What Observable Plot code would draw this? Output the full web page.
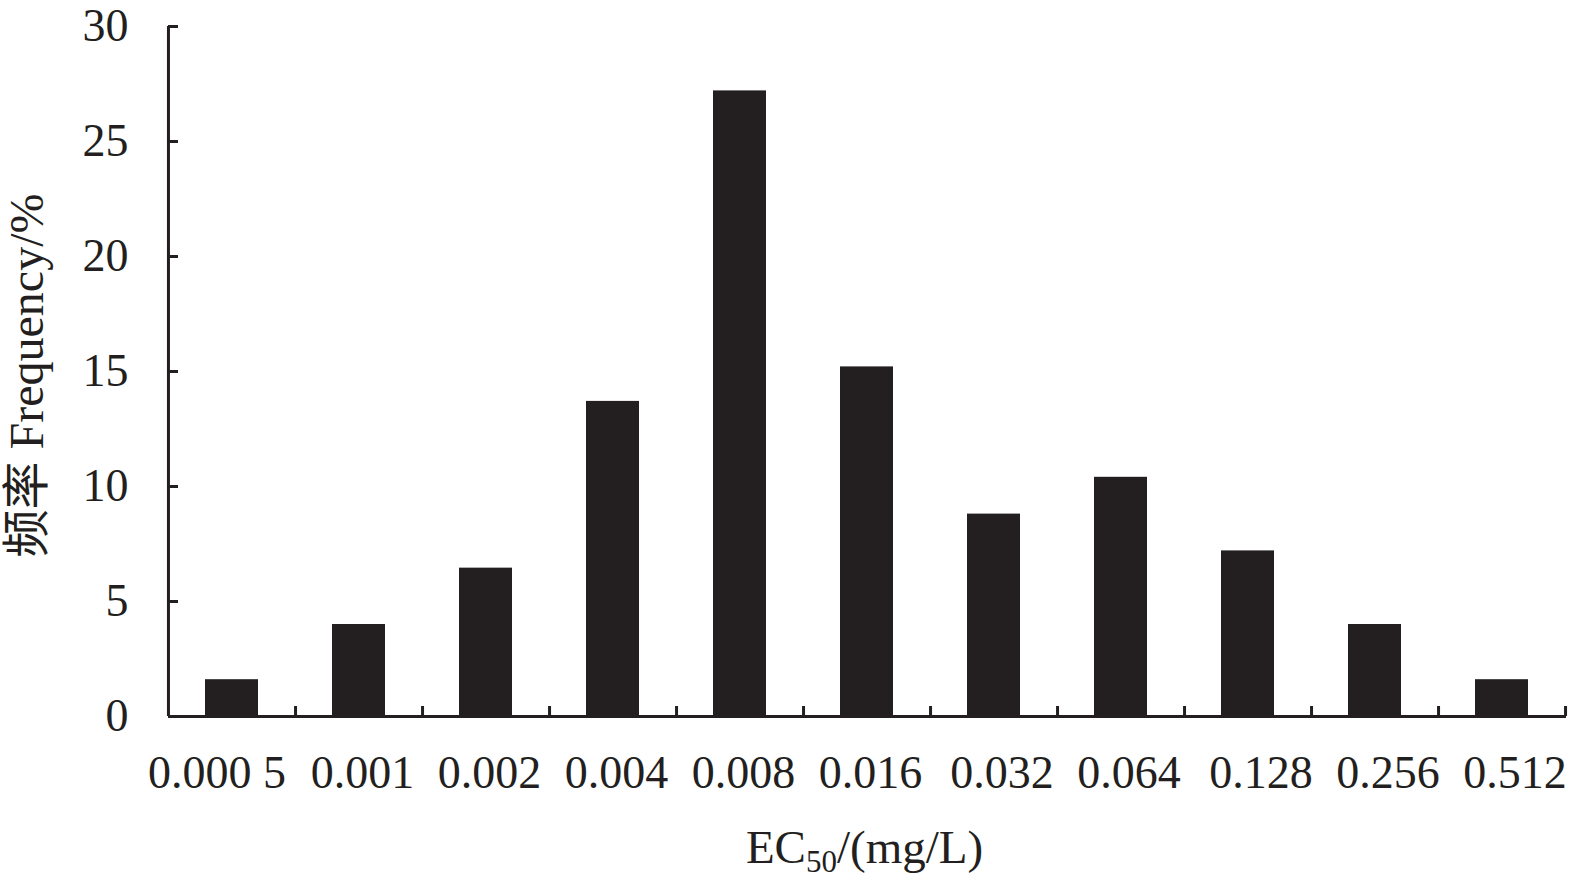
<!DOCTYPE html>
<html>
<head>
<meta charset="utf-8">
<script src="https://cdn.jsdelivr.net/npm/d3@7"></script>
<script src="https://cdn.jsdelivr.net/npm/@observablehq/plot@0.6"></script>
<style>
  html, body { margin: 0; padding: 0; background: #fff; }
  #chart svg { display: block; }
</style>
</head>
<body>
<div id="chart"></div>
<script>
// EC50 classes (mg/L) and frequency (%)
const categories = ["0.000 5", "0.001", "0.002", "0.004", "0.008", "0.016", "0.032", "0.064", "0.128", "0.256", "0.512"];
const frequency = [1.6, 4.0, 6.45, 13.7, 27.2, 15.2, 8.8, 10.4, 7.2, 4.0, 1.6];
const yTicks = [0, 5, 10, 15, 20, 25, 30];
const yTitle = "频率 Frequency/%";
const xTitle = "EC50/(mg/L)";

const data = categories.map((c, i) => ({ec: c, freq: frequency[i]}));

const W = 1575, H = 886;
const ml = 168, mr = 9, mt = 26, mb = 170;
const step = (W - ml - mr) / categories.length;
const ink = "#231f20";
const font = "'Liberation Serif', 'Times New Roman', 'Noto Sans CJK SC', serif";

const chart = Plot.plot({
  width: W,
  height: H,
  marginLeft: ml,
  marginRight: mr,
  marginTop: mt,
  marginBottom: mb,
  style: {fontFamily: font, color: ink, background: "#fff"},
  x: {type: "band", domain: categories, paddingInner: 0.58, paddingOuter: 0.29, label: null},
  y: {domain: [0, 30], label: null},
  marks: [
    Plot.barY(data, {x: "ec", y: "freq", fill: ink}),
    // axis lines
    Plot.ruleY([0], {stroke: ink, strokeWidth: 3}),
    Plot.ruleX([categories[0]], {y1: 0, y2: 30, dx: -step / 2, stroke: ink, strokeWidth: 3}),
    // y ticks (inward) and labels
    Plot.axisY({ticks: yTicks, tickSize: 10, dx: 10, fill: "none", stroke: ink, strokeWidth: 3, label: null}),
    Plot.axisY({ticks: yTicks, tickSize: 0, tickPadding: 40, fontSize: 46, fill: ink, label: null}),
    // x ticks at band boundaries (inward)
    Plot.axisX({tickSize: 10, dy: -10, dx: step / 2, fill: "none", stroke: ink, strokeWidth: 3, label: null}),
    // x labels
    Plot.axisX({ticks: categories.slice(0, 1), tickSize: 0, tickPadding: 39, dx: -15, fontSize: 46, fill: ink, label: null}),
    Plot.axisX({ticks: categories.slice(1, 6), tickSize: 0, tickPadding: 39, dx: 3.5, fontSize: 46, fill: ink, label: null}),
    Plot.axisX({ticks: categories.slice(6, 8), tickSize: 0, tickPadding: 39, dx: 8, fontSize: 46, fill: ink, label: null}),
    Plot.axisX({ticks: categories.slice(8), tickSize: 0, tickPadding: 39, dx: 13, fontSize: 46, fill: ink, label: null}),
    // titles
    Plot.text([xTitle], {frameAnchor: "bottom", dy: 146, dx: -3, lineAnchor: "bottom", fontSize: 47, fill: ink}),
    Plot.text([yTitle], {frameAnchor: "left", dx: -141, dy: 4, rotate: -90, textAnchor: "middle", fontSize: 48, fill: ink})
  ]
});

document.getElementById("chart").appendChild(chart);

// subscript "50" in the x title
d3.select(chart).selectAll("text").filter(function () { return this.textContent === xTitle; })
  .each(function () {
    const t = d3.select(this);
    t.text(null);
    t.append("tspan").text("EC");
    t.append("tspan").attr("font-size", 31).attr("dy", 9).text("50");
    t.append("tspan").attr("dy", -9).text("/(mg/L)");
  });
</script>
</body>
</html>
